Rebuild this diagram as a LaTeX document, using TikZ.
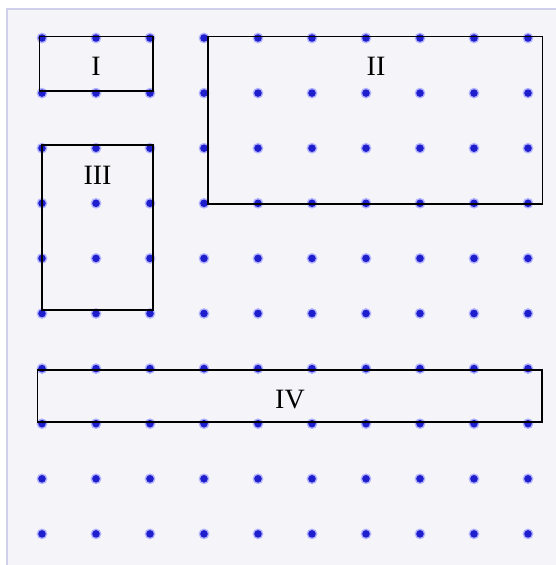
\documentclass[tikz,border=0pt]{standalone}
\usepackage{fontspec}
\setmainfont{Liberation Serif}
\begin{document}
\begin{tikzpicture}[x=1pt,y=-1pt,
  box/.style={draw=black,line width=1.7pt},
  lbl/.style={font=\fontsize{28}{30}\selectfont,inner sep=0pt,anchor=center},
  halo/.style={fill=blue!30!white,draw=none},
  dotc/.style={fill={rgb,255:red,30;green,30;blue,205},draw=none}]
\definecolor{bgc}{RGB}{244,244,249}
\definecolor{edgec}{RGB}{208,208,234}
\useasboundingbox (0,0) rectangle (556,565);
\fill[bgc] (7,9) rectangle (556,565);
\draw[edgec,line width=2.2pt] (7,565) -- (7,9) -- (556,9);
\foreach \i in {0,...,9}{
  \foreach \j in {0,...,9}{
    \fill[halo] ({42+54*\i},{38+55.1*\j}) circle (5.4);
    \fill[dotc] ({42+54*\i},{38+55.1*\j}) circle (3.8);
  }
}
\draw[box] (39.5,36.5) rectangle (153,91);
\draw[box] (208,36.5) rectangle (542.5,204);
\draw[box] (42,145) rectangle (153,310);
\draw[box] (37.5,370) rectangle (542,422);
\node[lbl] (tI) at (96,66) {I};
\node[lbl] (tII) at (376,66) {II};
\node[lbl] (tIII) at (97.5,175) {III};
\node[lbl] (tIV) at (290,400) {IV};
\end{tikzpicture}
\end{document}
